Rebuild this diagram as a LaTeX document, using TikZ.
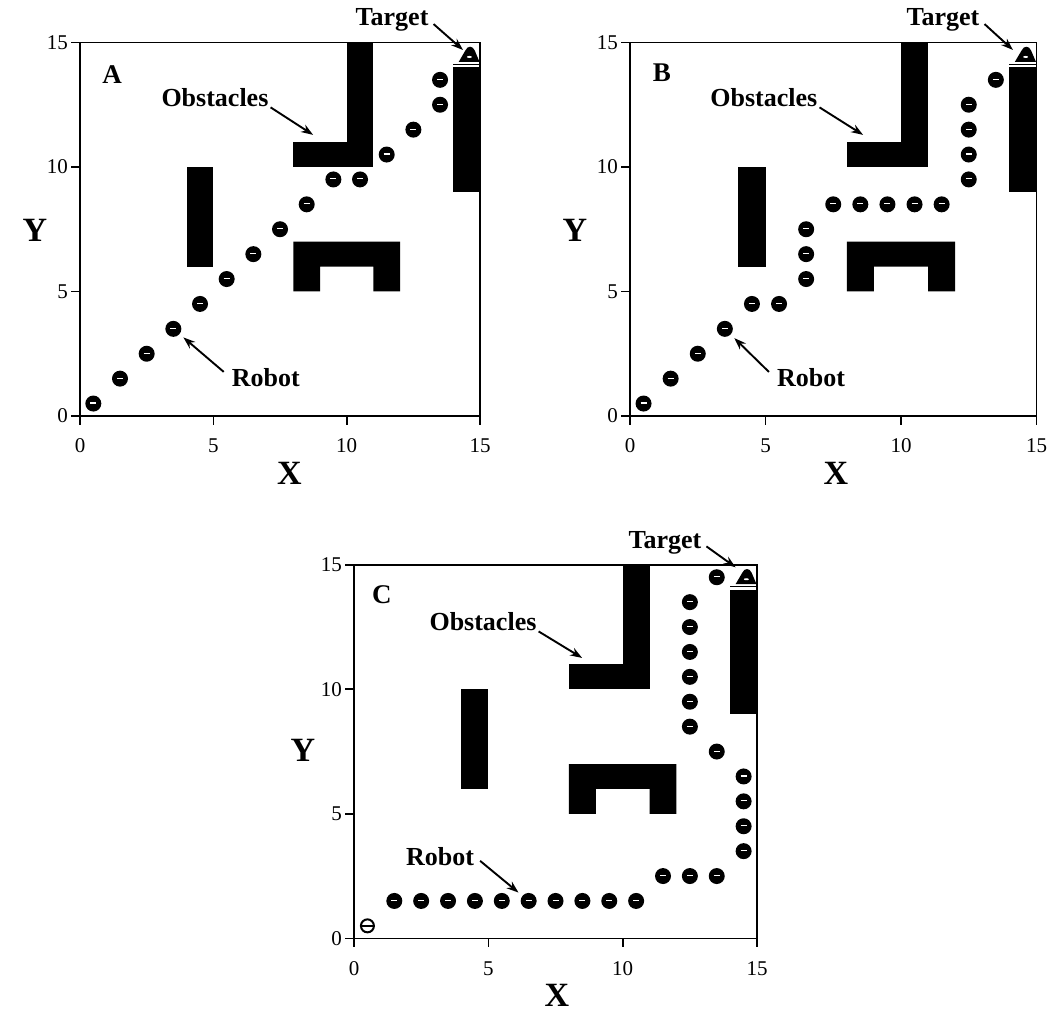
\documentclass[tikz,border=0pt]{standalone}
\usepackage{fontspec}
\setmainfont{Liberation Serif}
\usetikzlibrary{arrows.meta}
\tikzset{
  frame/.style={line width=1.6pt},
  bot/.style={circle, fill=black, minimum size=16pt, inner sep=0pt,
    path picture={\draw[white,line width=1.1pt] ([xshift=-3pt,yshift=0.5pt]path picture bounding box.center) -- ([xshift=3pt,yshift=0.5pt]path picture bounding box.center);}},
  hbot/.style={circle, draw=black, line width=2pt, fill=white, minimum size=13pt, inner sep=0pt,
    path picture={\draw[black,line width=1.4pt] ([xshift=-6pt]path picture bounding box.center) -- ([xshift=6pt]path picture bounding box.center);}},
  lab/.style={font=\fontsize{26}{30}\selectfont\bfseries, inner sep=0pt},
  tick/.style={font=\fontsize{21}{24}\selectfont, inner sep=0pt},
  axl/.style={font=\fontsize{34}{38}\selectfont\bfseries, inner sep=0pt},
  pan/.style={font=\fontsize{27}{30}\selectfont\bfseries, inner sep=0pt},
  arr/.style={line width=1.9pt, -{Stealth[length=12pt,width=8.5pt]}},
}
\newcommand\gridpanel[1]{%
  \draw[frame] (0,0) rectangle (15,15);
  \foreach \v in {0,5,10,15}{%
    \draw[frame] (\v,0) -- ++(0,-9pt);
    \draw[frame] (0,\v) -- ++(-9pt,0);
    \node[tick, yshift=-30pt] (xt#1\v) at (\v,0) {\v};
    \node[tick, anchor=east, xshift=-12pt] (yt#1\v) at (0,\v) {\v};
  }
  \fill (4,6) rectangle (5,10);
  \fill (10,10) rectangle (11,15);
  \fill (8,10) rectangle (11,11);
  \fill (8,5) -- (8,7) -- (12,7) -- (12,5) -- (11,5) -- (11,6) -- (9,6) -- (9,5) -- cycle;
  \fill (14,9) rectangle (15,14);
  \draw[line width=1pt] (14,14.12) -- (15,14.12);
  \fill (14.2,14.22) -- (14.45,14.68) .. controls (14.53,14.88) and (14.72,14.88) .. (14.8,14.68) -- (14.98,14.22) -- cycle;
  \fill[white] (14.6,14.42) ellipse (2.5pt and 1pt);
}
\begin{document}
\begin{tikzpicture}[x=1pt,y=1pt]
\useasboundingbox (0,0) rectangle (1055,1013);

% ---------- Panel A ----------
\begin{scope}[shift={(80,597)}, x=26.67pt, y=24.9pt]
  \gridpanel{A}
  \node[pan] (panA) at (1.2,13.7) {A};
  \node[axl] (xlA) at (7.85,-2.3) {X};
  \node[axl] (ylA) at (-1.69,7.47) {Y};
  \foreach \x/\y [count=\i] in {0.5/0.5,1.5/1.5,2.5/2.5,3.5/3.5,4.5/4.5,5.5/5.5,6.5/6.5,7.5/7.5,8.5/8.5,9.5/9.5,10.5/9.5,11.5/10.5,12.5/11.5,13.5/12.5,13.5/13.5}
    \node[bot] (rA\i) at (\x,\y) {};
  \node[lab] (obsA) at (5.06,12.77) {Obstacles};
  \coordinate (obsAt) at (8.74,11.29);
  \draw[arr] ([xshift=2pt]obsA.south east) -- (obsAt);
  \node[lab] (tgA) at (11.7,15.9) {Target};
  \coordinate (tgAt) at (14.36,14.7);
  \draw[arr] ([shift={(5pt,-4pt)}]tgA.east) -- (tgAt);
  \node[lab] (robA) at (6.97,1.53) {Robot};
  \draw[arr, shorten >=5pt] ([shift={(-8pt,6pt)}]robA.west) -- (rA4);
\end{scope}

% ---------- Panel B ----------
\begin{scope}[shift={(630,597)}, x=27.1pt, y=24.9pt]
  \gridpanel{B}
  \node[pan] (panB) at (1.18,13.78) {B};
  \node[axl] (xlB) at (7.6,-2.3) {X};
  \node[axl] (ylB) at (-2.03,7.47) {Y};
  \foreach \x/\y [count=\i] in {0.5/0.5,1.5/1.5,2.5/2.5,3.5/3.5,4.5/4.5,5.5/4.5,6.5/5.5,6.5/6.5,6.5/7.5,7.5/8.5,8.5/8.5,9.5/8.5,10.5/8.5,11.5/8.5,12.5/9.5,12.5/10.5,12.5/11.5,12.5/12.5,13.5/13.5}
    \node[bot] (rB\i) at (\x,\y) {};
  \node[lab] (obsB) at (4.94,12.77) {Obstacles};
  \coordinate (obsBt) at (8.6,11.29);
  \draw[arr] ([xshift=2pt]obsB.south east) -- (obsBt);
  \node[lab] (tgB) at (11.55,15.9) {Target};
  \coordinate (tgBt) at (14.13,14.7);
  \draw[arr] ([shift={(5pt,-4pt)}]tgB.east) -- (tgBt);
  \node[lab] (robB) at (6.68,1.53) {Robot};
  \draw[arr, shorten >=5pt] ([shift={(-8pt,6pt)}]robB.west) -- (rB4);
\end{scope}

% ---------- Panel C ----------
\begin{scope}[shift={(354,74.7)}, x=26.87pt, y=24.9pt]
  \gridpanel{C}
  \node[pan] (panC) at (1.04,13.79) {C};
  \node[axl] (xlC) at (7.55,-2.3) {X};
  \node[axl] (ylC) at (-1.9,7.53) {Y};
  \node[hbot] (rC0) at (0.5,0.5) {};
  \foreach \x/\y [count=\i] in {1.5/1.5,2.5/1.5,3.5/1.5,4.5/1.5,5.5/1.5,6.5/1.5,7.5/1.5,8.5/1.5,9.5/1.5,10.5/1.5,11.5/2.5,12.5/2.5,13.5/2.5,14.5/3.5,14.5/4.5,14.5/5.5,14.5/6.5,13.5/7.5,12.5/8.5,12.5/9.5,12.5/10.5,12.5/11.5,12.5/12.5,12.5/13.5,13.5/14.5}
    \node[bot] (rC\i) at (\x,\y) {};
  \node[lab] (obsC) at (4.8,12.7) {Obstacles};
  \coordinate (obsCt) at (8.49,11.26);
  \draw[arr] ([xshift=2pt]obsC.south east) -- (obsCt);
  \node[lab] (tgC) at (11.57,15.9) {Target};
  \coordinate (tgCt) at (14.2,14.9);
  \draw[arr] ([shift={(5pt,-4pt)}]tgC.east) -- (tgCt);
  \node[lab] (robC) at (3.2,3.27) {Robot};
  \draw[arr, shorten >=5pt] ([shift={(6pt,-4pt)}]robC.east) -- (rC6);
\end{scope}
\end{tikzpicture}
\end{document}
